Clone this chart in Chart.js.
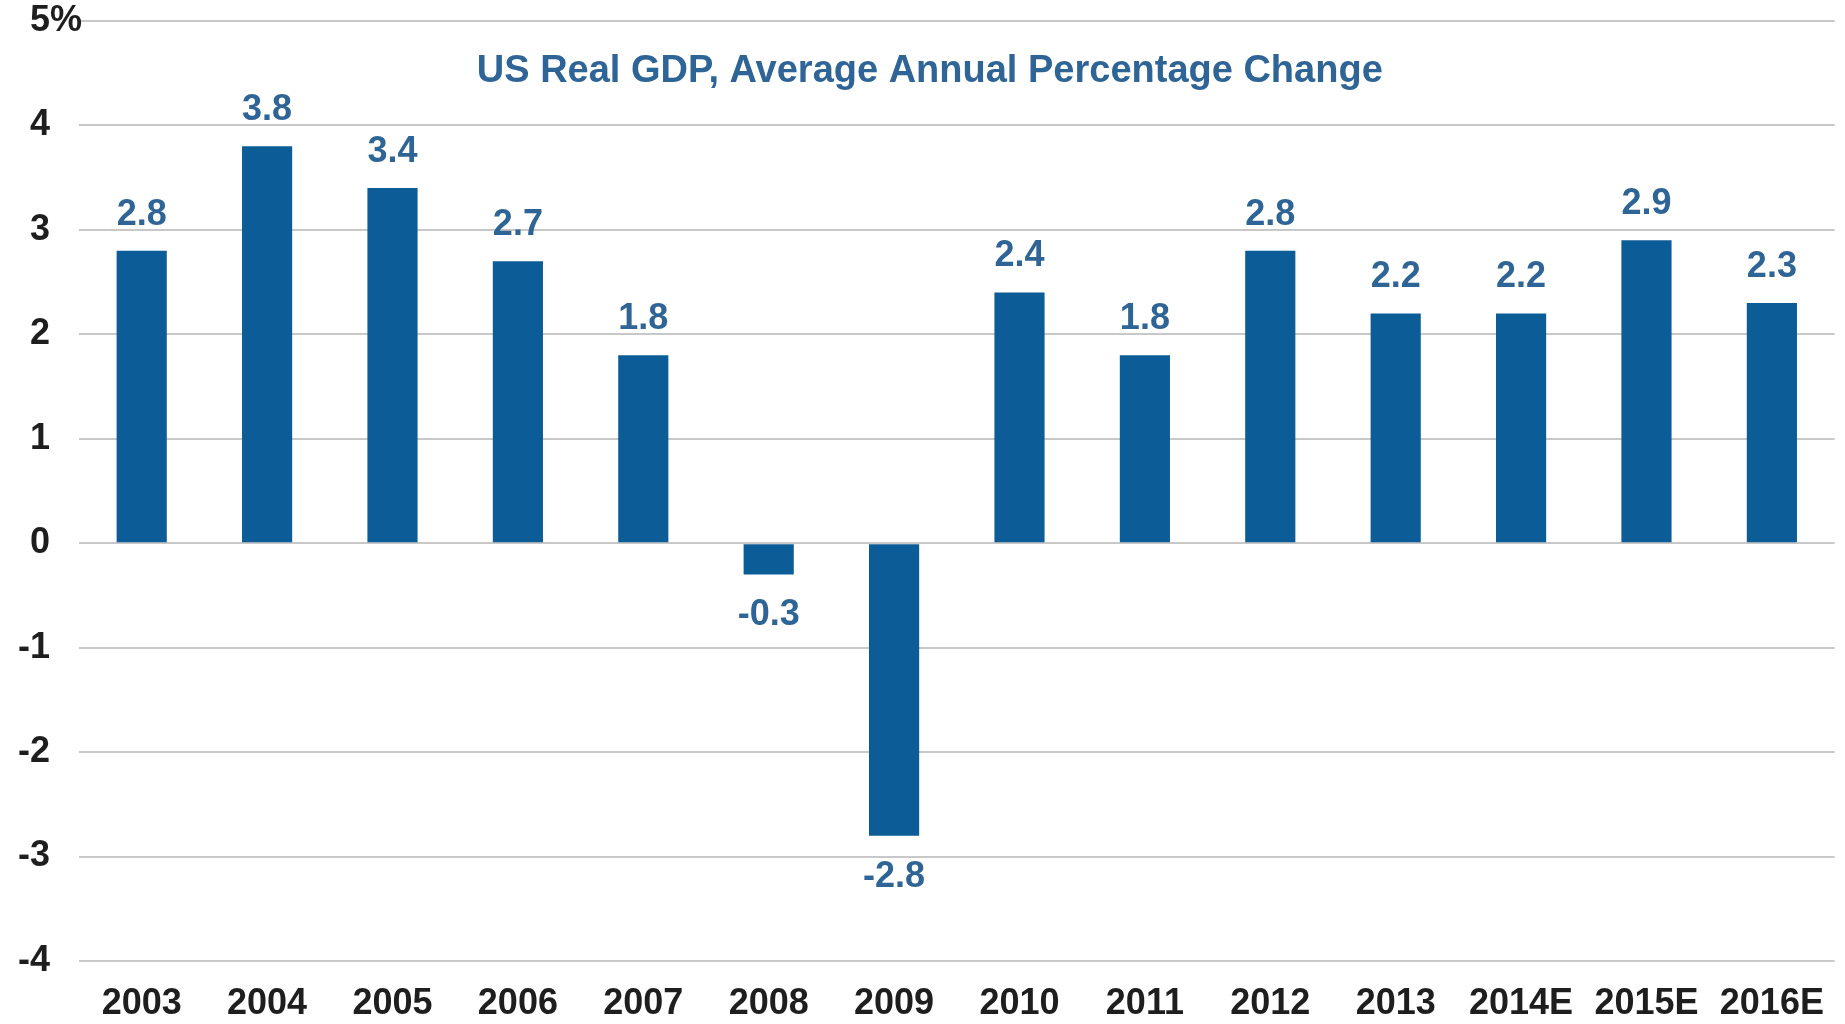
<!DOCTYPE html>
<html>
<head>
<meta charset="utf-8">
<title>US Real GDP</title>
<script src="https://cdn.jsdelivr.net/npm/chart.js@4/dist/chart.umd.min.js"></script>
<style>
  body { margin: 0; background: #fff; }
</style>
</head>
<body>
<canvas id="gdpChart" width="1845" height="1024"></canvas>
<script>
// data
const years = ['2003', '2004', '2005', '2006', '2007', '2008', '2009', '2010', '2011', '2012', '2013', '2014E', '2015E', '2016E'];
const gdpChange = [2.8, 3.8, 3.4, 2.7, 1.8, -0.3, -2.8, 2.4, 1.8, 2.8, 2.2, 2.2, 2.9, 2.3];
const yTicks = [-4, -3, -2, -1, 0, 1, 2, 3, 4, 5];
const chartTitle = 'US Real GDP, Average Annual Percentage Change';

const barColor = '#0b5c97';
const labelColor = '#2f6496';
const tickColor = '#1e1e1e';
const fontFamily = '"Liberation Sans", Arial, sans-serif';

// title inside the plot area, value labels, and y tick labels
// (the "%" hangs to the right of the 5, like the original)
const overlayText = {
    id: 'overlayText',
    afterDatasetsDraw(chart) {
        const ctx = chart.ctx;
        const area = chart.chartArea;
        const yScale = chart.scales.y;
        ctx.save();
        ctx.textBaseline = 'middle';

        ctx.fillStyle = labelColor;
        ctx.font = 'bold 38px ' + fontFamily;
        ctx.textAlign = 'center';
        ctx.fillText(chartTitle, (area.left + area.right) / 2 - 27, yScale.getPixelForValue(4.52));

        ctx.font = 'bold 36px ' + fontFamily;
        const meta = chart.getDatasetMeta(0);
        meta.data.forEach((bar, i) => {
            const v = gdpChange[i];
            const y = v >= 0 ? bar.y - 36 : bar.y + 41;
            ctx.fillText(v.toFixed(1), bar.x, y);
        });

        ctx.fillStyle = tickColor;
        yTicks.forEach(v => {
            const y = yScale.getPixelForValue(v);
            ctx.textAlign = 'right';
            ctx.fillText(String(v), 50, y);
            if (v === 5) {
                ctx.textAlign = 'left';
                ctx.fillText('%', 50, y);
            }
        });
        ctx.restore();
    }
};

const ctx = document.getElementById('gdpChart').getContext('2d');
new Chart(ctx, {
    type: 'bar',
    data: {
        labels: years,
        datasets: [{
            label: 'Real GDP % change',
            data: gdpChange,
            backgroundColor: barColor,
            borderWidth: 0,
            barPercentage: 0.4,
            categoryPercentage: 1
        }]
    },
    options: {
        responsive: false,
        animation: false,
        layout: { padding: { top: 21, right: 2, left: 0, bottom: 0 } },
        plugins: {
            legend: { display: false },
            tooltip: { enabled: false }
        },
        scales: {
            x: {
                grid: { display: false, drawTicks: false },
                border: { display: false },
                ticks: {
                    color: tickColor,
                    font: { family: fontFamily, size: 36, weight: 'bold' },
                    padding: 21,
                    maxRotation: 0,
                    autoSkip: false
                },
                afterFit(scale) { scale.height = 63; }
            },
            y: {
                min: -4,
                max: 5,
                afterBuildTicks(scale) {
                    scale.ticks = yTicks.map(v => ({ value: v }));
                },
                grid: { color: '#c8c8c8', lineWidth: 2, drawTicks: false },
                border: { display: false },
                ticks: { display: false },
                afterFit(scale) { scale.width = 79; }
            }
        }
    },
    plugins: [overlayText]
});
</script>
</body>
</html>
